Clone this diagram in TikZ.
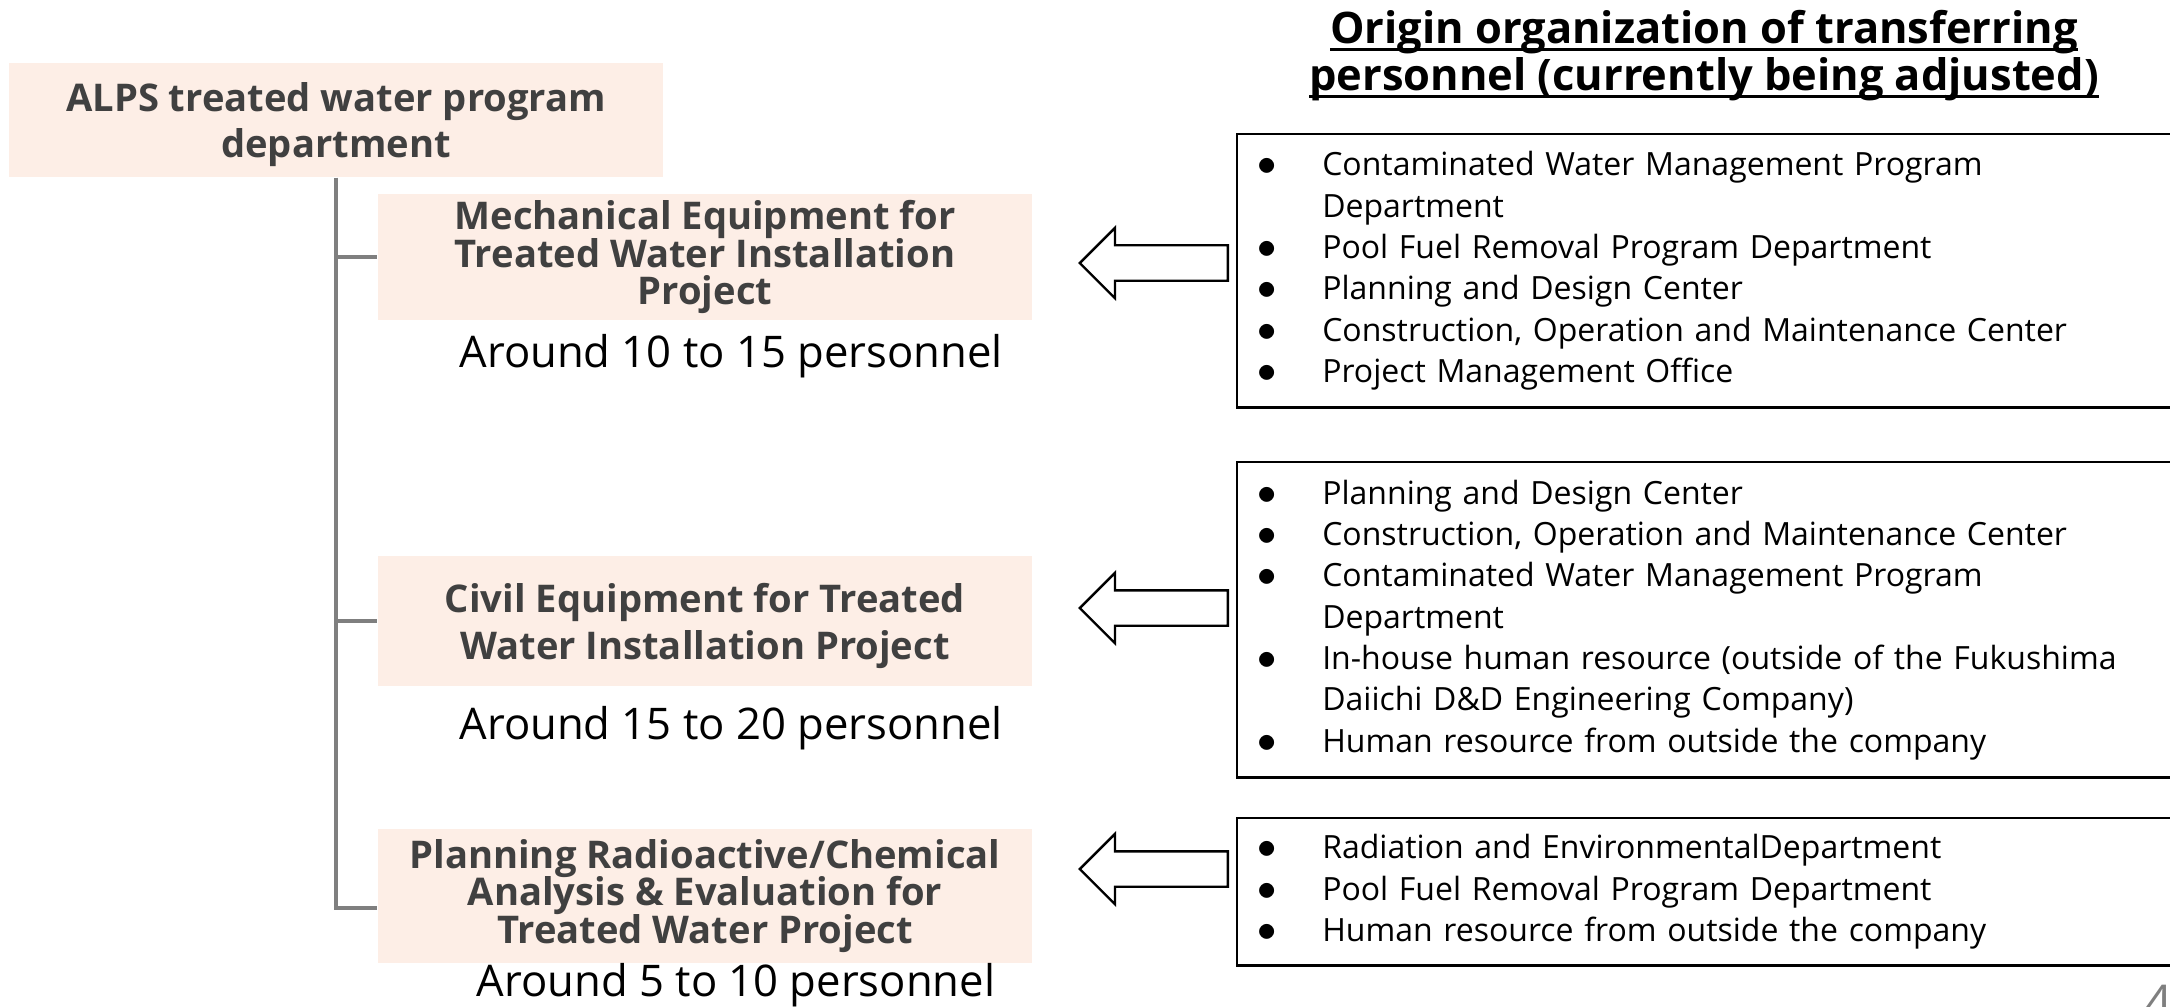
\documentclass[tikz,border=0pt]{standalone}
\usepackage{fontspec}
\setmainfont{Open Sans}
\usepackage{tikz}
\usetikzlibrary{positioning, calc, shapes.arrows}

\definecolor{boxfill}{HTML}{FDEEE6}
\definecolor{boxtext}{HTML}{404040}
\definecolor{treegray}{HTML}{7F7F7F}

\newcommand{\titleline}[1]{\setbox0=\hbox{#1}\rlap{\rule[-2.1pt]{\wd0}{0.85pt}}\box0}
\newcommand{\bitem}[1]{\makebox[0.6cm][l]{\hspace{-0.05cm}{\fontsize{10.5pt}{0pt}\selectfont$\bullet$}}#1}
\newcommand{\bcont}[1]{\hspace*{0.6cm}#1}

\begin{document}
\lineskiplimit=-1cm
\begin{tikzpicture}[x=0.01cm, y=-0.01cm,
	deptbox/.style={fill=boxfill, text=boxtext, align=center, inner sep=0pt,
		minimum width=6.54cm, font=\bfseries\fontsize{10.85pt}{0.375cm}\selectfont},
	srcbox/.style={draw=black, line width=0.7pt, anchor=north west, align=left,
		text width=9cm, inner xsep=0.25cm, inner ysep=0pt,
		font=\fontsize{9.1pt}{0.413cm}\selectfont},
	blockarrow/.style={single arrow, shape border rotate=180, draw=black, line width=0.7pt,
		fill=white, minimum height=1.48cm, inner xsep=0pt, inner ysep=0.165cm,
		single arrow head extend=0.175cm, single arrow tip angle=90, anchor=tip},
	countlabel/.style={anchor=base, font=\fontsize{12.4pt}{15pt}\selectfont},
	treeline/.style={draw=treegray, line width=1.1pt}]
	\useasboundingbox (0,0) rectangle (2170,1006);

	% Departments
	\node[deptbox, minimum height=1.14cm, text depth=0pt,
		font=\bfseries\fontsize{10.85pt}{0.46cm}\selectfont]
		(alps) at (336,120) {ALPS treated water program\\department};
	\node[deptbox, minimum height=1.26cm] (mech) at (705,257)
		{Mechanical Equipment for\\Treated Water Installation\\Project};
	\node[deptbox, minimum height=1.30cm, text depth=0pt,
		font=\bfseries\fontsize{10.85pt}{0.47cm}\selectfont]
		(civil) at (705,621) {Civil Equipment for Treated\\Water Installation Project};
	\node[deptbox, minimum height=1.34cm] (plan) at (705,896)
		{Planning Radioactive/Chemical\\Analysis \& Evaluation for\\Treated Water Project};

	% Personnel counts
	\node[countlabel] (mechcount) at (731,367) {Around 10 to 15 personnel};
	\node[countlabel] (civilcount) at (731,739) {Around 15 to 20 personnel};
	\node[countlabel] (plancount) at (736,996) {Around 5 to 10 personnel};

	% Tree
	\draw[treeline] (alps.south) |- ($(plan.west)+(0,12)$);
	\draw[treeline] (alps.south |- mech.west) -- (mech.west);
	\draw[treeline] (alps.south |- civil.west) -- (civil.west);

	% Origin organizations
	\node[align=center, font=\bfseries\fontsize{12.35pt}{0.47cm}\selectfont] (title) at (1704,56)
		{\titleline{Origin organization of transferring}\\\titleline{personnel (currently being adjusted)}};
	\node[srcbox, minimum height=2.73cm] (src1) at (1236,133)
		{\bitem{Contaminated Water Management Program}\\\bcont{Department}\\
		 \bitem{Pool Fuel Removal Program Department}\\\bitem{Planning and Design Center}\\
		 \bitem{Construction, Operation and Maintenance Center}\\\bitem{Project Management Office}};
	\node[srcbox, minimum height=3.15cm] (src2) at (1236,461)
		{\bitem{Planning and Design Center}\\\bitem{Construction, Operation and Maintenance Center}\\
		 \bitem{Contaminated Water Management Program}\\\bcont{Department}\\
		 \bitem{In-house human resource (outside of the Fukushima}\\
		 \bcont{Daiichi D\&D Engineering Company)}\\\bitem{Human resource from outside the company}};
	\node[srcbox, minimum height=1.47cm] (src3) at (1236,817)
		{\bitem{Radiation and EnvironmentalDepartment}\\\bitem{Pool Fuel Removal Program Department}\\
		 \bitem{Human resource from outside the company}};

	% Arrows
	\node[blockarrow] (arr1) at (1078,263) {};
	\node[blockarrow] (arr2) at (1078,608) {};
	\node[blockarrow] (arr3) at (1078,869) {};

	% Page number
	\node[anchor=base west, inner sep=0pt, text=treegray, font=\fontsize{14pt}{16pt}\selectfont]
		(pageno) at (2144,1020) {4};
\end{tikzpicture}
\end{document}
